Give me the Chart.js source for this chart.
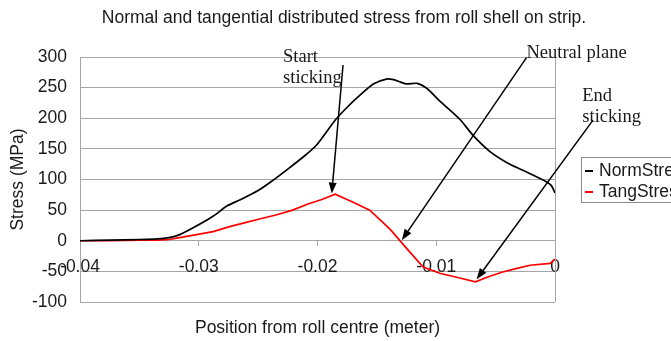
<!DOCTYPE html>
<html>
<head>
<meta charset="utf-8">
<script src="https://cdn.jsdelivr.net/npm/chart.js@4"></script>
<style>
  html, body { margin: 0; padding: 0; background: #fff; overflow: hidden; }
  canvas { display: block; }
</style>
</head>
<body>
<canvas id="chart" width="671" height="341"></canvas>
<script>
// Position from roll centre (m) and normal stress (MPa)
const normX = [-0.0400, -0.0375, -0.0350, -0.0335, -0.0325, -0.0316, -0.0302, -0.0288, -0.0276, -0.0265,
               -0.0250, -0.0238, -0.0225, -0.0210, -0.0200, -0.0185, -0.0175, -0.0164, -0.0153, -0.0142,
               -0.0136, -0.0130, -0.0125, -0.0116, -0.0108, -0.0097, -0.0080, -0.0069, -0.0055, -0.0040,
               -0.0027, -0.0007, -0.0003, 0.0000];
const normY = [0, 1, 2, 3, 5, 10, 24, 40, 57, 67,
               82, 98, 117, 140, 158, 197, 218, 238, 256, 264,
               263, 259, 256, 257, 249, 228, 198, 172, 146, 127,
               115, 96, 90, 78];

// Position from roll centre (m) and tangential stress (MPa)
const tangX = [-0.0400, -0.0375, -0.0350, -0.0335, -0.0325, -0.0316, -0.0302, -0.0288, -0.0274, -0.0260,
               -0.0248, -0.0235, -0.0221, -0.0208, -0.0197, -0.0185, -0.0170, -0.0156, -0.0145, -0.0138,
               -0.0131, -0.0122, -0.0111, -0.0097, -0.0082, -0.0067, -0.0055, -0.0044, -0.0032, -0.0021,
               -0.0004, 0.0000];
const tangY = [0, 0, 1, 1, 2, 5, 10, 15, 23, 30,
               36, 42, 50, 60, 67, 76, 63, 50, 30, 17,
               1, -19, -43, -53, -60, -67, -58, -51, -45, -40,
               -37, -30];

const seriesNames = ['NormStress', 'TangStress'];
const xTicks = [-0.04, -0.03, -0.02, -0.01, 0];
const xTickLabels = ['-0.04', '-0.03', '-0.02', '-0.01', '0'];
const yTicks = [-100, -50, 0, 50, 100, 150, 200, 250, 300];

const chartTitle = 'Normal and tangential distributed stress from roll shell on strip.';
const xAxisTitle = 'Position from roll centre (meter)';
const yAxisTitle = 'Stress (MPa)';

// Callouts: text lines, text anchor, arrow tail and arrow tip (data units)
const noteLines = [['Start', 'sticking'], ['Neutral plane'], ['End', 'sticking']];
const noteText  = [[-0.0229, 300], [-0.0024, 307], [0.0023, 236]];
const noteTail  = [[-0.01785, 287], [-0.0024, 299], [0.0032, 197]];
const noteTip   = [[-0.0188, 77], [-0.0129, 1], [-0.0066, -63]];

const SANS = '"Liberation Sans", Arial, sans-serif';
const SERIF = '"Liberation Serif", "Times New Roman", serif';
const GRID = '#a6a6a6';
const INK = '#1a1a1a';
const FS = 17.5;

const pairs = (xs, ys) => xs.map((x, i) => ({ x, y: ys[i] }));

const extras = {
  id: 'extras',
  afterDatasetsDraw(chart) {
    const { ctx, chartArea: a, scales: { x, y } } = chart;
    ctx.save();
    // right frame line of the plot
    ctx.strokeStyle = GRID;
    ctx.lineWidth = 1;
    ctx.beginPath();
    ctx.moveTo(Math.round(a.right) + 0.5, a.top);
    ctx.lineTo(Math.round(a.right) + 0.5, a.bottom);
    ctx.stroke();

    // chart title and x-axis title
    ctx.fillStyle = INK;
    ctx.textAlign = 'center';
    ctx.textBaseline = 'middle';
    ctx.font = FS + 'px ' + SANS;
    ctx.fillText(chartTitle, 344, 18);
    ctx.fillText(xAxisTitle, (a.left + a.right) / 2, 328);

    // callouts with arrows
    ctx.strokeStyle = '#000';
    ctx.fillStyle = '#000';
    ctx.lineWidth = 1.5;
    noteLines.forEach((lines, i) => {
      const tx = x.getPixelForValue(noteTail[i][0]), ty = y.getPixelForValue(noteTail[i][1]);
      const hx = x.getPixelForValue(noteTip[i][0]), hy = y.getPixelForValue(noteTip[i][1]);
      const ang = Math.atan2(hy - ty, hx - tx);
      const len = 11, half = 4;
      const bx = hx - len * Math.cos(ang), by = hy - len * Math.sin(ang);
      ctx.beginPath();
      ctx.moveTo(tx, ty);
      ctx.lineTo(bx, by);
      ctx.stroke();
      ctx.beginPath();
      ctx.moveTo(hx, hy);
      ctx.lineTo(bx + half * Math.sin(ang), by - half * Math.cos(ang));
      ctx.lineTo(bx - half * Math.sin(ang), by + half * Math.cos(ang));
      ctx.closePath();
      ctx.fill();
    });
    ctx.fillStyle = INK;
    ctx.font = '18.5px ' + SERIF;
    ctx.textAlign = 'left';
    ctx.textBaseline = 'middle';
    noteLines.forEach((lines, i) => {
      const px = x.getPixelForValue(noteText[i][0]), py = y.getPixelForValue(noteText[i][1]);
      lines.forEach((t, k) => ctx.fillText(t, px, py + k * 21));
    });

    // legend box
    const lx = 581, ly = 157, lw = 120, lh = 45;
    ctx.fillStyle = '#fff';
    ctx.fillRect(lx, ly, lw, lh);
    ctx.strokeStyle = '#8c8c8c';
    ctx.lineWidth = 1;
    ctx.strokeRect(lx + 0.5, ly + 0.5, lw, lh);
    ctx.font = FS + 'px ' + SANS;
    ctx.textBaseline = 'middle';
    chart.data.datasets.forEach((ds, i) => {
      const cy = ly + 14 + i * 21;
      ctx.strokeStyle = ds.borderColor;
      ctx.lineWidth = 2;
      ctx.beginPath();
      ctx.moveTo(lx + 4, cy);
      ctx.lineTo(lx + 12, cy);
      ctx.stroke();
      ctx.fillStyle = INK;
      ctx.fillText(ds.label, lx + 18, cy);
    });
    ctx.restore();
  }
};

new Chart(document.getElementById('chart'), {
  type: 'line',
  data: {
    datasets: [
      { label: seriesNames[0], data: pairs(normX, normY), borderColor: '#000000', borderWidth: 1.7,
        pointRadius: 0, tension: 0.25, fill: false },
      { label: seriesNames[1], data: pairs(tangX, tangY), borderColor: '#ff0000', borderWidth: 1.7,
        pointRadius: 0, tension: 0, fill: false }
    ]
  },
  options: {
    responsive: false,
    animation: false,
    devicePixelRatio: 1,
    layout: { padding: { left: 0, right: 116, top: 57, bottom: 39 } },
    plugins: {
      legend: { display: false },
      tooltip: { enabled: false },
      title: { display: false }
    },
    scales: {
      x: {
        type: 'linear',
        min: -0.04,
        max: 0,
        position: { y: 0 },
        afterBuildTicks: s => { s.ticks = xTicks.map(v => ({ value: v })); },
        afterFit: s => { s.height = 0; },
        ticks: {
          callback: (v, i) => xTickLabels[i],
          color: INK,
          font: { family: SANS, size: FS },
          padding: 11,
          maxRotation: 0
        },
        grid: { drawOnChartArea: false, drawTicks: true, tickLength: 5, color: GRID },
        border: { color: GRID }
      },
      y: {
        min: -100,
        max: 300,
        afterBuildTicks: s => { s.ticks = yTicks.map(v => ({ value: v })); },
        afterFit: s => { s.width = 80; },
        ticks: {
          color: INK,
          font: { family: SANS, size: FS },
          padding: 13
        },
        grid: { color: GRID, drawTicks: false },
        border: { color: GRID },
        title: {
          display: true,
          text: yAxisTitle,
          color: INK,
          font: { family: SANS, size: FS },
          padding: { top: 8, bottom: 0 }
        }
      }
    }
  },
  plugins: [extras]
});
</script>
</body>
</html>
